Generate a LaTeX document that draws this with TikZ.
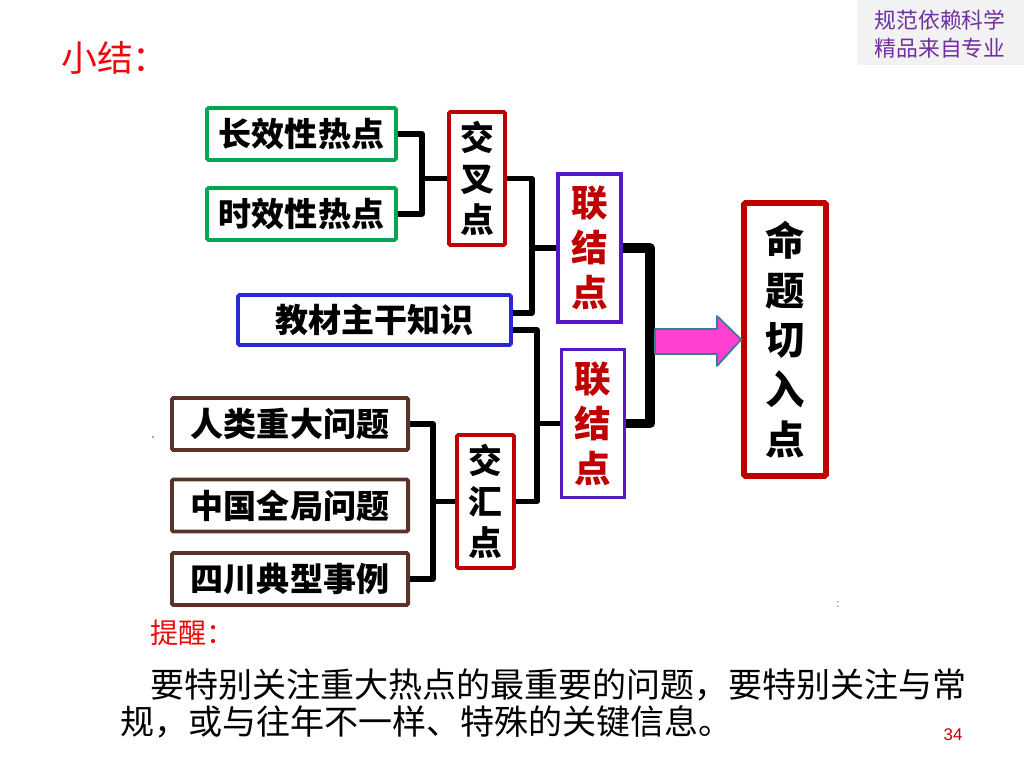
\documentclass[tikz,border=0pt]{standalone}
\usepackage{fontspec}
\setmainfont{Noto Sans CJK SC}
\newfontfamily\numfont{Liberation Sans}
\definecolor{hotgreen}{RGB}{0,166,81}
\definecolor{darkred}{RGB}{192,0,0}
\definecolor{linkpurple}{RGB}{88,24,196}
\definecolor{coreblue}{RGB}{40,40,215}
\definecolor{issuebrown}{RGB}{90,50,40}
\definecolor{titlered}{RGB}{235,10,10}
\definecolor{notepurple}{RGB}{112,48,160}
\definecolor{notegray}{RGB}{242,242,242}
\definecolor{arrowpink}{RGB}{255,64,208}
\definecolor{arrowedge}{RGB}{46,127,153}
\begin{document}
\begin{tikzpicture}[x=0.025cm, y=-0.025cm,
                    every node/.style={inner sep=0pt, text centered},
                    boxtext/.style={font=\fontsize{23.5}{23.5}\selectfont\bfseries},
                    hotbox/.style={boxtext, draw=hotgreen, line width=2.6pt, rounded corners=1pt,
                                   minimum width=4.725cm, minimum height=1.3cm},
                    corebox/.style={boxtext, draw=coreblue, line width=2.6pt, rounded corners=1pt,
                                    minimum width=6.825cm, minimum height=1.25cm},
                    issuebox/.style={boxtext, draw=issuebrown, line width=2.8pt, rounded corners=1pt,
                                     minimum width=5.9cm, minimum height=1.3cm},
                    pointbox/.style={draw=darkred, line width=2.8pt, rounded corners=1pt, align=center,
                                     minimum width=1.4cm, minimum height=3.325cm,
                                     font=\fontsize{24}{29}\selectfont\bfseries},
                    linkbox/.style={draw=linkpurple, line width=2.2pt, align=center, text=darkred,
                                    minimum width=1.575cm, minimum height=3.7cm,
                                    font=\fontsize{26}{32}\selectfont\bfseries},
                    conn/.style={line width=3.6pt, line join=round},
                    thickconn/.style={line width=7pt, line join=round}]
  \useasboundingbox (0,0) rectangle (1024,768);
  \fill[notegray] (857,0) rectangle (1024,65);
  \node[text=notepurple, align=center, font=\fontsize{15.5}{20}\selectfont] (note) at (940,34) {规范依赖科学\\精品来自专业};
  \node[anchor=west, text=titlered, font=\fontsize{25.5}{25.5}\selectfont] (title) at (61,58) {小结：};
  \node[hotbox] (hot1) at (301.5,134) {长效性热点};
  \node[hotbox] (hot2) at (301.5,214) {时效性热点};
  \node[pointbox] (cross) at (477,178.5) {交\\叉\\点};
  \node[linkbox] (link1) at (589.5,248) {联\\结\\点};
  \node[corebox] (core) at (374.5,320) {教材主干知识};
  \node[linkbox] (link2) at (593,423.5) {联\\结\\点};
  \node[issuebox] (issue1) at (290,424) {人类重大问题};
  \node[issuebox] (issue2) at (290,505.5) {中国全局问题};
  \node[issuebox] (issue3) at (290,579) {四川典型事例};
  \node[pointbox, minimum width=1.425cm] (meet) at (485.5,501.5) {交\\汇\\点};
  \node[draw=darkred, line width=4pt, rounded corners=1pt, align=center,
        minimum width=2.05cm, minimum height=6.825cm,
        font=\fontsize{28}{35.5}\selectfont\bfseries] (entry) at (785,339.5) {命\\题\\切\\入\\点};
  \coordinate (j1) at (422,0);
  \coordinate (j2) at (532,0);
  \coordinate (j3) at (537,0);
  \coordinate (j4) at (433,0);
  \coordinate (j5) at (650,0);
  \draw[conn] (hot1.east) -- (hot1.east -| j1) |- (hot2.east);
  \draw[conn] (j1 |- cross.west) -- (cross.west);
  \draw[conn] (cross.east) -- (cross.east -| j2) |- ([yshift=0.175cm]core.east);
  \draw[conn] (j2 |- link1.west) -- (link1.west);
  \draw[conn] ([yshift=-0.25cm]core.east) -| (j3 |- meet.east) -- (meet.east);
  \draw[conn] (j3 |- link2.west) -- (link2.west);
  \draw[conn] (issue1.east) -- (issue1.east -| j4) |- (issue3.east);
  \draw[conn] (j4 |- meet.west) -- (meet.west);
  \draw[thickconn] (link1.east) -- (link1.east -| j5) |- (link2.east);
  \draw[fill=arrowpink, draw=arrowedge, line width=1.2pt, line join=round]
    (655,329) -- (717,329) -- (717,316) -- (entry.west) -- (717,366) -- (717,354) -- (655,354) -- cycle;
  \fill[notepurple!70] (153,437) circle (1.2);
  \node[text=issuebrown!60, font=\fontsize{8}{8}\selectfont] (mark) at (838,605) {:};
  \node[anchor=west, text=titlered, font=\fontsize{20}{20}\selectfont] (remind) at (150,633) {提醒：};
  \node[anchor=west, font=\fontsize{24.2}{24.2}\selectfont] (para1) at (150,685) {要特别关注重大热点的最重要的问题，要特别关注与常};
  \node[anchor=west, font=\fontsize{24.2}{24.2}\selectfont] (para2) at (120,722) {规，或与往年不一样、特殊的关键信息。};
  \node[text=darkred, font=\fontsize{12}{12}\selectfont\numfont] (page) at (953,735) {34};
\end{tikzpicture}
\end{document}
